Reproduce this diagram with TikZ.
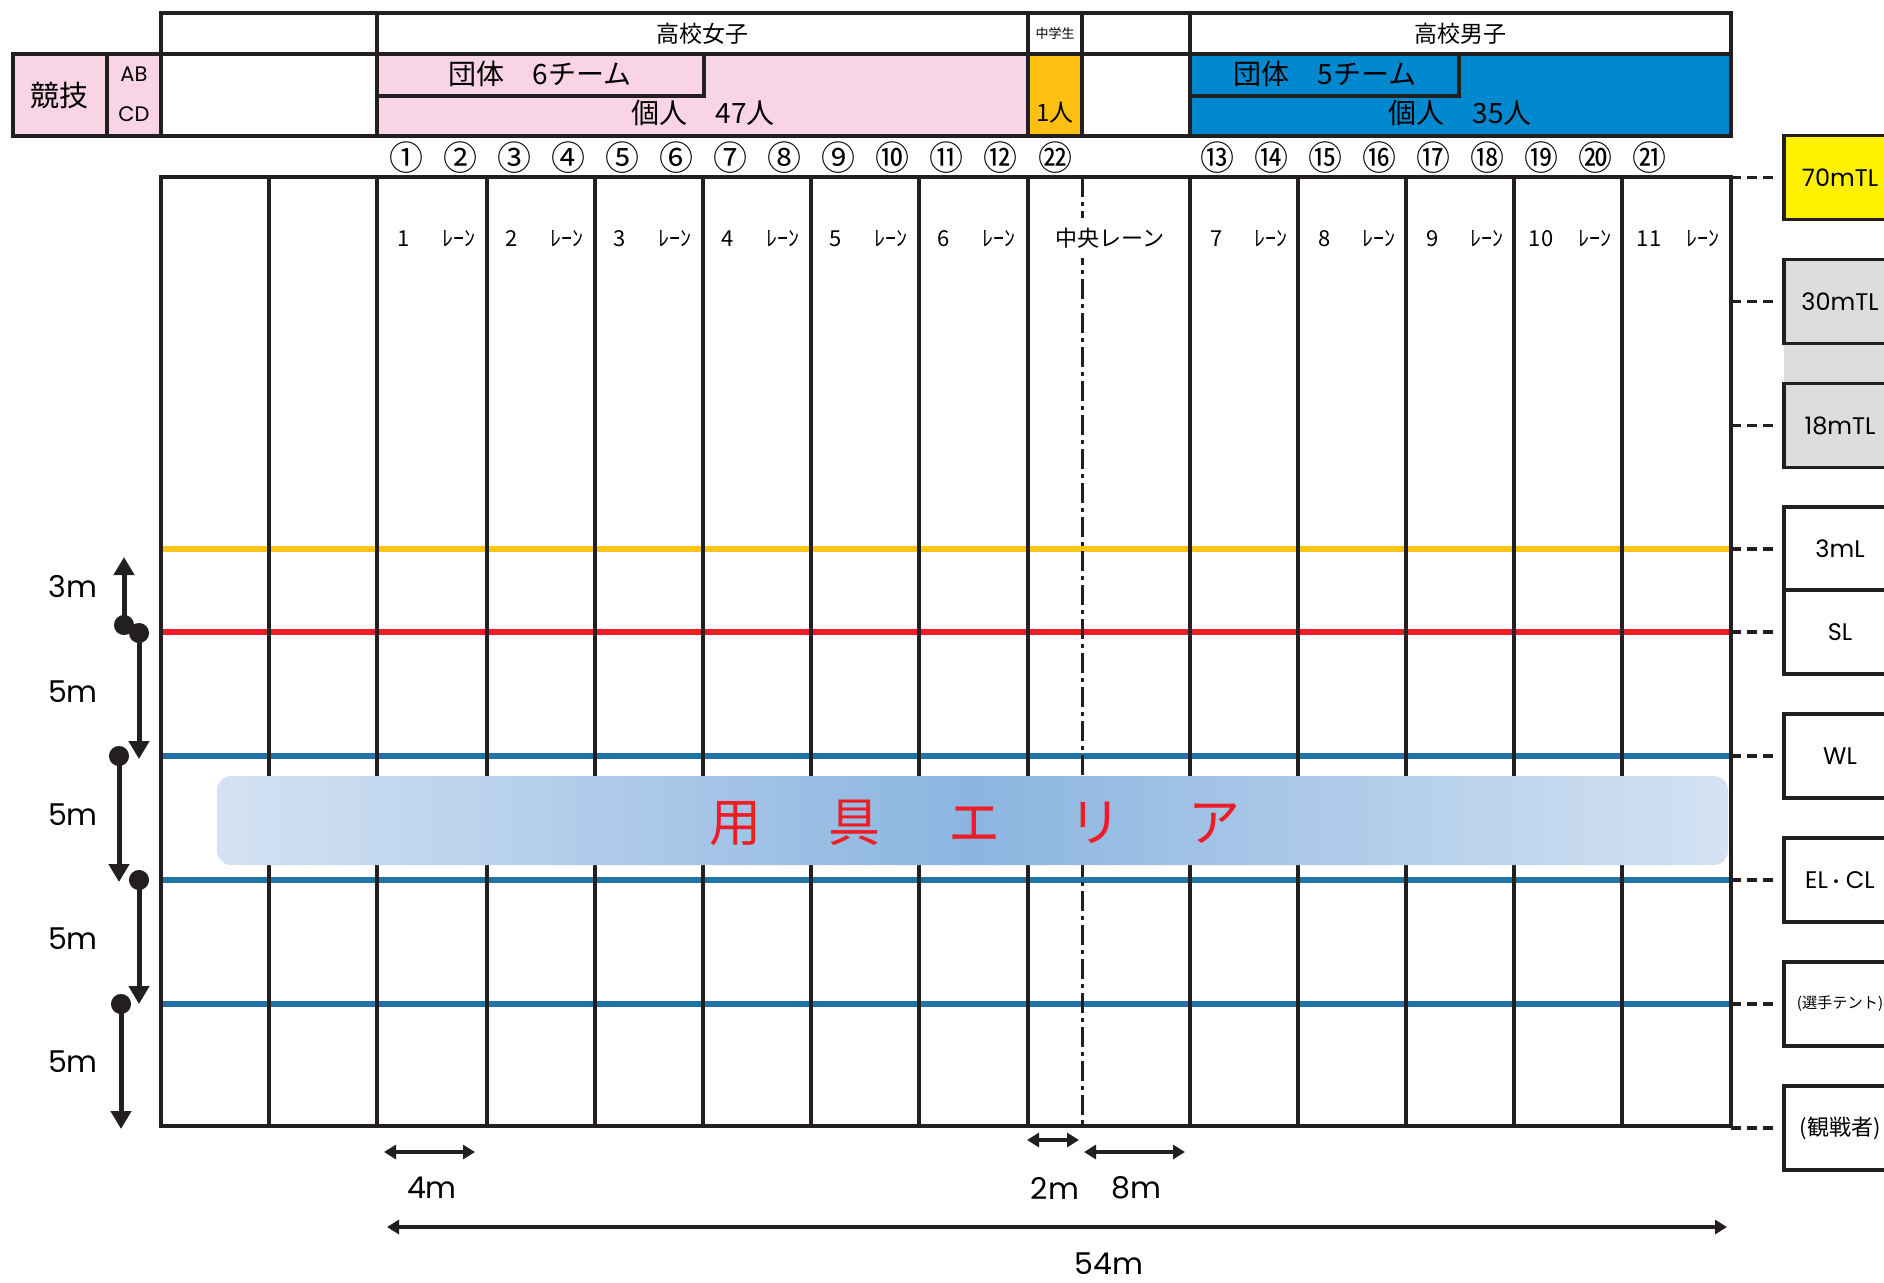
\documentclass[tikz,border=0pt]{standalone}
\usepackage{fontspec}
\setmainfont{Noto Sans CJK JP}
\newfontfamily\lat{Poppins}
\usepackage{tikz}
\usetikzlibrary{positioning,arrows.meta}

\definecolor{ink}{RGB}{35,31,32}
\definecolor{girlpink}{RGB}{249,212,228}
\definecolor{jrorange}{RGB}{253,192,17}
\definecolor{boyblue}{RGB}{0,137,207}
\definecolor{lineyellow}{RGB}{252,196,20}
\definecolor{linered}{RGB}{237,28,36}
\definecolor{lineblue}{RGB}{35,116,166}
\definecolor{tlyellow}{RGB}{255,241,0}
\definecolor{tlgray}{RGB}{220,221,223}
\definecolor{arealight}{RGB}{212,226,243}
\definecolor{areadark}{RGB}{139,181,224}
\definecolor{areared}{RGB}{238,28,37}

\begin{document}
\begin{tikzpicture}[x=0.5pt, y=-0.5pt,
		hline/.style={draw=ink, line width=2.2pt},
		levelline/.style={line width=2.6pt},
		cdash/.style={draw=ink, line width=1.5pt, dash pattern=on 10pt off 2.5pt on 2pt off 2.5pt},
		hcell/.style={inner sep=0pt, font=\fontsize{11.5}{12}\selectfont},
		bigcell/.style={inner sep=0pt, font=\fontsize{14}{15}\selectfont},
		cnum/.style={inner sep=0pt, font=\fontsize{17}{18}\selectfont},
		lanelbl/.style={inner sep=0pt, font=\fontsize{11}{12}\selectfont},
		tlbox/.style={draw=ink, line width=1.8pt, minimum width=56pt, minimum height=42pt, inner sep=0pt, font=\lat\fontsize{12}{13}\selectfont},
		tlline/.style={draw=ink, line width=1.6pt, dash pattern=on 5pt off 3pt, shorten >=3.5pt},
		dimv/.style={draw=ink, line width=2.5pt, {Circle[length=10pt]}-{Triangle[width=10pt,length=9pt]}},
		dimh/.style={draw=ink, line width=2pt, {Triangle[width=7pt,length=6pt]}-{Triangle[width=7pt,length=6pt]}},
		dimlbl/.style={inner sep=0pt, font=\lat\fontsize{15}{16}\selectfont},
		area/.style={rounded corners=7pt, left color=arealight, right color=arealight, middle color=areadark, minimum width=755.5pt, minimum height=44.5pt, inner sep=0pt},
		]
		\useasboundingbox (0,0) rectangle (1884,1282);
		
		%Header
		\fill[girlpink] (13,54) rectangle (161,136);
		\fill[girlpink] (377,54) rectangle (1028,136);
		\fill[jrorange] (1028,54) rectangle (1082,136);
		\fill[boyblue] (1190,54) rectangle (1731,136);
		\draw[hline] (161,13) rectangle (1731,136);
		\draw[hline] (13,54) rectangle (1731,136);
		\draw[hline] (107,54) -- (107,136);
		\foreach \x in {377,1028,1082,1190} \draw[hline] (\x,13) -- (\x,136);
		\draw[hline] (377,54) rectangle (704,96);
		\draw[hline] (1190,54) rectangle (1459,96);
		
		\node[hcell]                        (girls)  at (702,34)   {高校女子};
		\node[inner sep=0pt, font=\fontsize{6.5}{7}\selectfont] (junior) at (1055,34) {中学生};
		\node[hcell]                        (boys)   at (1460,34)  {高校男子};
		\node[inner sep=0pt, font=\fontsize{14.5}{15}\selectfont] (kyogi) at (60,95) {競技};
		\node[inner sep=0pt, font=\lat\fontsize{10.5}{11}\selectfont] (ab) at (134,74) {AB};
		\node[inner sep=0pt, font=\lat\fontsize{10.5}{11}\selectfont] (cd) at (134,114) {CD};
		\node[bigcell]                      (gteam)  at (540,74)   {団体　6チーム};
		\node[bigcell]                      (gsolo)  at (703,113)  {個人　47人};
		\node[inner sep=0pt, font=\fontsize{12}{13}\selectfont] (jsolo) at (1055,113) {1人};
		\node[bigcell]                      (bteam)  at (1325,74)  {団体　5チーム};
		\node[bigcell]                      (bsolo)  at (1460,113) {個人　35人};
		
		%Numbers
		\foreach \c [count=\i from 0] in {①,②,③,④,⑤,⑥,⑦,⑧,⑨,⑩,⑪,⑫}
			\node[cnum] (g\i) at ({406+54*\i},158) {\c};
		\node[cnum] (j0) at (1055,158) {㉒};
		\foreach \c [count=\i from 0] in {⑬,⑭,⑮,⑯,⑰,⑱,⑲,⑳,㉑}
			\node[cnum] (b\i) at ({1217+54*\i},158) {\c};
		
		%Lines
		\draw[levelline, lineyellow] (159,549) -- (1731,549);
		\draw[levelline, linered] (159,632) -- (1731,632);
		\foreach \y in {756,880,1004} \draw[levelline, lineblue] (161,\y) -- (1731,\y);
		\draw[cdash] (1082,177) -- (1082,1126);
		\draw[hline] (161,177) rectangle (1731,1126);
		\foreach \x in {269,377,487,595,703,811,919,1028,1190,1298,1406,1514,1622}
			\draw[hline] (\x,177) -- (\x,1126);
		
		%Lanes
		\foreach \n [count=\i from 0] in {1,2,3,4,5,6} {
			\node[lanelbl] (ln\n) at ({404+108*\i},239) {\n};
			\node[lanelbl] (lk\n) at ({459+108*\i},239) {ﾚｰﾝ};
		}
		\foreach \n [count=\i from 0] in {7,8,9,10,11} {
			\node[lanelbl] (ln\n) at ({1217+108*\i},239) {\n};
			\node[lanelbl] (lk\n) at ({1271+108*\i},239) {ﾚｰﾝ};
		}
		\node[lanelbl, fill=white, inner xsep=2pt, inner ysep=5pt] (middle) at (1110,238) {中央レーン};
		
		%Area
		\node[area] (area) at (972.5,820.5) {};
		\node[inner sep=0pt, text=areared, font=\fontsize{26}{27}\selectfont] (areatext) at (975,823)
			{用\hspace{34pt}具\hspace{34pt}エ\hspace{34pt}リ\hspace{34pt}ア};
		
		%Marks
		\fill[tlgray] (1784,343) rectangle (1900,384);
		\node[tlbox, fill=tlyellow] (tl70) at (1840,177.5) {70mTL};
		\node[tlbox, fill=tlgray]   (tl30) at (1840,301.5) {30mTL};
		\node[tlbox, fill=tlgray]   (tl18) at (1840,425.5) {18mTL};
		\node[tlbox, fill=white]    (ml3)  at (1840,549)   {3mL};
		\node[tlbox, fill=white]    (sl)   at (1840,632)   {SL};
		\node[tlbox, fill=white]    (wl)   at (1840,756)   {WL};
		\node[tlbox, fill=white]    (elcl) at (1840,880)   {EL{\rmfamily\fontsize{9}{9}\selectfont ・}CL};
		\node[tlbox, fill=white, font=\fontsize{7.6}{9}\selectfont]   (tent) at (1840,1004) {(選手テント)};
		\node[tlbox, fill=white, font=\fontsize{11}{12}\selectfont] (fans) at (1840,1128) {(観戦者)};
		
		\coordinate (e70) at (1731,177.5);
		\coordinate (e30) at (1731,301.5);
		\coordinate (e18) at (1731,425.5);
		\coordinate (e3)  at (1731,549);
		\coordinate (esl) at (1731,632);
		\coordinate (ewl) at (1731,756);
		\coordinate (eel) at (1731,880);
		\coordinate (ete) at (1731,1004);
		\coordinate (efa) at (1731,1128);
		\draw[tlline] (e70) -- (tl70);
		\draw[tlline] (e30) -- (tl30);
		\draw[tlline] (e18) -- (tl18);
		\draw[tlline] (e3)  -- (ml3);
		\draw[tlline] (esl) -- (sl);
		\draw[tlline] (ewl) -- (wl);
		\draw[tlline] (eel) -- (elcl);
		\draw[tlline] (ete) -- (tent);
		\draw[tlline] (efa) -- (fans);
		
		%Dimensions
		\coordinate (v3a) at (124,635);  \coordinate (v3b) at (124,557);
		\coordinate (v5a) at (139,623);  \coordinate (v5b) at (139,759);
		\coordinate (v5c) at (119,746);  \coordinate (v5d) at (119,882);
		\coordinate (v5e) at (139,870);  \coordinate (v5f) at (139,1004);
		\coordinate (v5g) at (121,994);  \coordinate (v5h) at (121,1129);
		\draw[dimv] (v3a) -- (v3b);
		\draw[dimv] (v5a) -- (v5b);
		\draw[dimv] (v5c) -- (v5d);
		\draw[dimv] (v5e) -- (v5f);
		\draw[dimv] (v5g) -- (v5h);
		\node[dimlbl] (m3)  at (73,587)  {3m};
		\node[dimlbl] (m5a) at (73,692)  {5m};
		\node[dimlbl] (m5b) at (73,815)  {5m};
		\node[dimlbl] (m5c) at (73,939)  {5m};
		\node[dimlbl] (m5d) at (73,1062) {5m};
		
		\coordinate (h4a) at (384,1152);   \coordinate (h4b) at (475,1152);
		\coordinate (h2a) at (1027,1140);  \coordinate (h2b) at (1079,1140);
		\coordinate (h8a) at (1084,1152);  \coordinate (h8b) at (1185,1152);
		\coordinate (h54a) at (387,1227);  \coordinate (h54b) at (1727,1227);
		\draw[dimh] (h4a) -- (h4b);
		\draw[dimh] (h2a) -- (h2b);
		\draw[dimh] (h8a) -- (h8b);
		\draw[dimh] (h54a) -- (h54b);
		\node[dimlbl] (w4)  at (432,1188)  {4m};
		\node[dimlbl] (w2)  at (1055,1188) {2m};
		\node[dimlbl] (w8)  at (1136,1188) {8m};
		\node[dimlbl] (w54) at (1109,1264) {54m};
\end{tikzpicture}
\end{document}
